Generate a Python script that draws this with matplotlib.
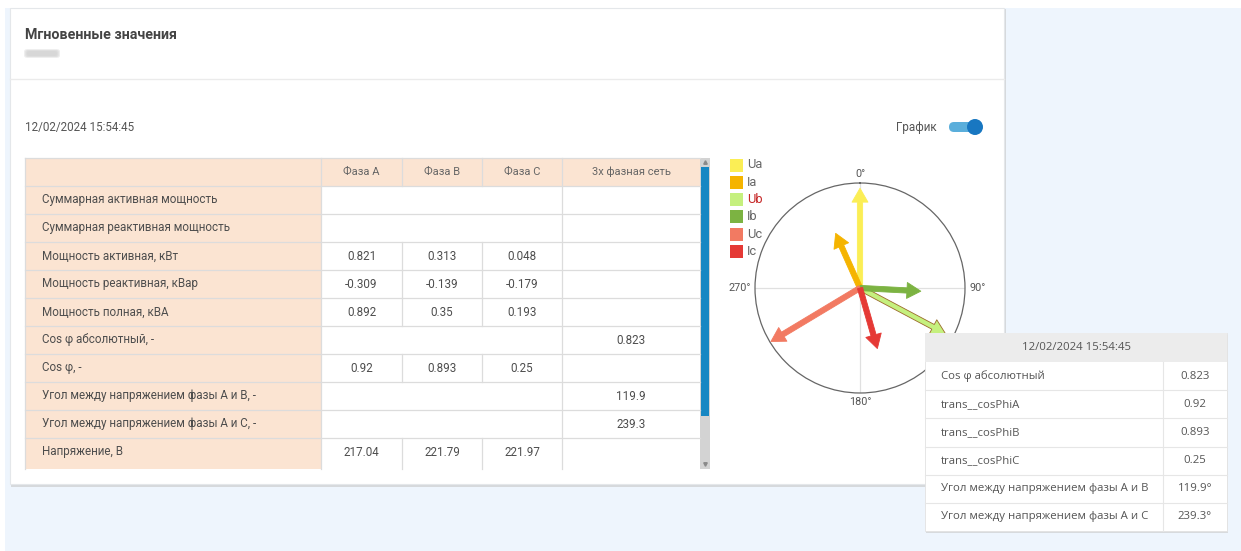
import numpy as np
import matplotlib
matplotlib.use('Agg')
import matplotlib.pyplot as plt
from matplotlib.patches import Rectangle, FancyBboxPatch

# -----------------------------------------------------------------------------
# данные
# -----------------------------------------------------------------------------
title = 'Мгновенные значения'
timestamp = '12/02/2024 15:54:45'
col_headers = ['Фаза А', 'Фаза В', 'Фаза С', '3х фазная сеть']
row_labels = ['Суммарная активная мощность',
              'Суммарная реактивная мощность',
              'Мощность активная, кВт',
              'Мощность реактивная, кВар',
              'Мощность полная, кВА',
              'Cos φ абсолютный, -',
              'Cos φ, -',
              'Угол между напряжением фазы А и В, -',
              'Угол между напряжением фазы А и С, -',
              'Напряжение, В']
phase_a = ['', '', '0.821', '-0.309', '0.892', '', '0.92', '', '', '217.04']
phase_b = ['', '', '0.313', '-0.139', '0.35', '', '0.893', '', '', '221.79']
phase_c = ['', '', '0.048', '-0.179', '0.193', '', '0.25', '', '', '221.97']
three_phase = ['', '', '', '', '', '0.823', '', '119.9', '239.3', '']

vec_names = ['Ua', 'Ia', 'Ub', 'Ib', 'Uc', 'Ic']
vec_angles = [0.0, 336.0, 118.0, 93.0, 239.0, 164.0]   # degrees
vec_mags = [0.95, 0.57, 0.92, 0.58, 0.99, 0.60]
vec_colors = ['#fbee55', '#f5b400', '#c5f07e', '#7cb342', '#f27a62', '#e53935']

tip_labels = ['Cos φ абсолютный', 'trans__cosPhiA', 'trans__cosPhiB',
              'trans__cosPhiC', 'Угол между напряжением фазы А и В',
              'Угол между напряжением фазы А и С']
tip_values = ['0.823', '0.92', '0.893', '0.25', '119.9°', '239.3°']

# -----------------------------------------------------------------------------
# figure
# -----------------------------------------------------------------------------
W, H = 1241, 551
fig = plt.figure(figsize=(W / 100, H / 100), dpi=100, facecolor='white')
FONT = ['Roboto', 'DejaVu Sans']
TFONT = ['Open Sans', 'DejaVu Sans']
GRID = '#dcdcdc'
PEACH = '#fbe4d2'
TXT = '#4d4d4d'

ax = fig.add_axes([0, 0, 1, 1], zorder=0)
ax.set_xlim(0, W)
ax.set_ylim(H, 0)
ax.axis('off')

# fond + carte
ax.add_patch(Rectangle((5, 8), W - 5, H - 8, fc='#eef5fd', ec='none'))
ax.add_patch(Rectangle((11, 9), 995, 478, fc='#d6d9dc', ec='none'))
ax.add_patch(Rectangle((10, 8), 994, 476, fc='white', ec='#e4e7ea', lw=0.8))
ax.plot([10, 1004], [79, 79], color='#ebebeb', lw=1)

ax.text(25, 35, title, family=FONT, fontsize=10.3, fontweight='bold',
        color='#444444', va='center', ha='left')
for k in range(4):
    ax.add_patch(FancyBboxPatch((27 - k, 51 - k * 0.6), 30 + 2 * k, 5 + 1.2 * k,
                                boxstyle='round,pad=0,rounding_size=2.5',
                                fc='#cfcfcf', ec='none', alpha=0.35))
ax.text(25, 127, timestamp, family=FONT, fontsize=8.4, color='#555555',
        va='center', ha='left')

# toggle "График"
ax.text(937, 127, 'График', family=FONT, fontsize=8.4, color='#555555',
        va='center', ha='right')
ax.add_patch(FancyBboxPatch((949, 122), 33, 10, boxstyle='round,pad=0,rounding_size=5',
                            fc='#5aaedb', ec='none'))
ax.add_patch(plt.Circle((975, 127), 8, fc='#1877c1', ec='none'))

# -----------------------------------------------------------------------------
# tableau
# -----------------------------------------------------------------------------
x_cols = [25, 321, 402, 482, 562, 700]
y_head = 158
row_h = 28
y_cut = 469

ax.add_patch(Rectangle((x_cols[0], y_head), x_cols[-1] - x_cols[0], row_h,
                       fc=PEACH, ec='none'))
ax.add_patch(Rectangle((x_cols[0], y_head + row_h), x_cols[1] - x_cols[0],
                       y_cut - y_head - row_h, fc=PEACH, ec='none'))

for j, h in enumerate(col_headers):
    xc = (x_cols[j + 1] + x_cols[j + 2]) / 2
    ax.text(xc, y_head + row_h / 2, h, family=FONT, fontsize=8, color='#666666',
            ha='center', va='center')

# lignes horizontales
for i in range(len(row_labels) + 1):
    y = y_head + row_h * i
    ax.plot([x_cols[0], x_cols[-1]], [y, y], color=GRID, lw=0.9)
# lignes verticales
ax.plot([x_cols[0], x_cols[0]], [y_head, y_cut], color=GRID, lw=0.9)
ax.plot([x_cols[1], x_cols[1]], [y_head, y_cut], color=GRID, lw=0.9)
ax.plot([x_cols[4], x_cols[4]], [y_head, y_cut], color=GRID, lw=0.9)
ax.plot([x_cols[2], x_cols[2]], [y_head, y_head + row_h], color=GRID, lw=0.9)
ax.plot([x_cols[3], x_cols[3]], [y_head, y_head + row_h], color=GRID, lw=0.9)

for i, lab in enumerate(row_labels):
    y0 = y_head + row_h * (i + 1)
    yc = y0 + row_h / 2
    y1 = y_cut if i == len(row_labels) - 1 else y0 + row_h
    ax.text(x_cols[0] + 17, yc, lab, family=FONT, fontsize=8.35, color=TXT,
            ha='left', va='center')
    vals = [phase_a[i], phase_b[i], phase_c[i]]
    if not all(v == '' for v in vals):
        ax.plot([x_cols[2], x_cols[2]], [y0, y1], color=GRID, lw=0.9)
        ax.plot([x_cols[3], x_cols[3]], [y0, y1], color=GRID, lw=0.9)
    for j, v in enumerate(vals + [three_phase[i]]):
        if v:
            xc = (x_cols[j + 1] + x_cols[j + 2]) / 2
            ax.text(xc, yc, v, family=FONT, fontsize=8.35, color=TXT,
                    ha='center', va='center')

# ascenseur
ax.add_patch(Rectangle((700, 158), 10, y_cut - 158, fc='#d3d3d3', ec='none'))
ax.add_patch(Rectangle((701, 167), 8, 249, fc='#1787c3', ec='none'))
ax.plot([705], [162], marker='^', ms=2.5, color='#8a8a8a')
ax.plot([705], [464], marker='v', ms=2.5, color='#8a8a8a')

# -----------------------------------------------------------------------------
# diagramme vectoriel
# -----------------------------------------------------------------------------
cx, cy, R = 860, 288, 105
pax = fig.add_axes([(cx - R) / W, 1 - (cy + R) / H, 2 * R / W, 2 * R / H],
                   projection='polar', zorder=1)
pax.set_theta_zero_location('N')
pax.set_theta_direction(-1)
pax.set_ylim(0, 1)
pax.set_yticks([])
pax.set_xticks([])
pax.grid(False)
pax.set_facecolor('none')
pax.spines['polar'].set_color('#666666')
pax.spines['polar'].set_linewidth(0.9)
for a in [0, 90]:
    t = np.deg2rad(a)
    pax.plot([t, t + np.pi], [1, 1], color='#e0e0e0', lw=0.9, zorder=1)

for ang, lab in zip([0, 90, 180, 270], ['0°', '90°', '180°', '270°']):
    t = np.deg2rad(ang)
    ha = {0: 'center', 90: 'left', 180: 'center', 270: 'right'}[ang]
    va = {0: 'bottom', 90: 'center', 180: 'top', 270: 'center'}[ang]
    pax.text(t, 1.04, lab, family=FONT, fontsize=7.8, color='#555555',
             ha=ha, va=va, clip_on=False)

for name, ang, mag, col in zip(vec_names, vec_angles, vec_mags, vec_colors):
    ec = '#9a6a2a' if name == 'Ub' else col
    pax.annotate('', xy=(np.deg2rad(ang), mag), xytext=(0, 0),
                 arrowprops=dict(arrowstyle='simple,head_length=1.0,head_width=1.15,tail_width=0.38',
                                 fc=col, ec=ec, lw=0.6, shrinkA=0, shrinkB=0),
                 zorder=3, annotation_clip=False)

# -----------------------------------------------------------------------------
# légende + infobulle
# -----------------------------------------------------------------------------
oax = fig.add_axes([0, 0, 1, 1], zorder=2)
oax.set_xlim(0, W)
oax.set_ylim(H, 0)
oax.axis('off')
oax.patch.set_alpha(0)

for k, (name, col) in enumerate(zip(vec_names, vec_colors)):
    y = 165 + 17.3 * k
    oax.add_patch(Rectangle((730, y - 6.5), 13, 13, fc=col, ec='none'))
    oax.text(747, y, name, family=FONT, fontsize=9.3, ha='left', va='center',
             color='#c62828' if name == 'Ub' else '#666666')

tx0, tx1, ty0, th = 925, 1227, 333, 29
tdiv = 1163
nrow = len(tip_labels)
ty1 = ty0 + th * (nrow + 1) - 5
oax.add_patch(Rectangle((tx0 + 1, ty0 + 2), tx1 - tx0, ty1 - ty0, fc='#c8c8c8',
                        ec='none', alpha=0.6))
oax.add_patch(Rectangle((tx0, ty0), tx1 - tx0, ty1 - ty0, fc='white', ec='#e2e2e2', lw=0.6))
oax.add_patch(Rectangle((tx0, ty0), tx1 - tx0, th, fc='#ececec', ec='none'))
oax.text((tx0 + tx1) / 2, ty0 + th / 2, timestamp, family=TFONT, fontsize=8.2,
         color='#555555', ha='center', va='center')
rh = (ty1 - ty0 - th) / nrow
for k, (lab, val) in enumerate(zip(tip_labels, tip_values)):
    y0 = ty0 + th + rh * k
    if k > 0:
        oax.plot([tx0, tx1], [y0, y0], color='#e6e6e6', lw=0.8)
    oax.text(tx0 + 16, y0 + rh / 2, lab, family=TFONT, fontsize=8.2, color='#555555',
             ha='left', va='center')
    oax.text((tdiv + tx1) / 2, y0 + rh / 2, val, family=TFONT, fontsize=8.2,
             color='#555555', ha='center', va='center')
oax.plot([tdiv, tdiv], [ty0 + th, ty1], color='#e6e6e6', lw=0.8)

fig.savefig('out.png', dpi=100, facecolor='white')
